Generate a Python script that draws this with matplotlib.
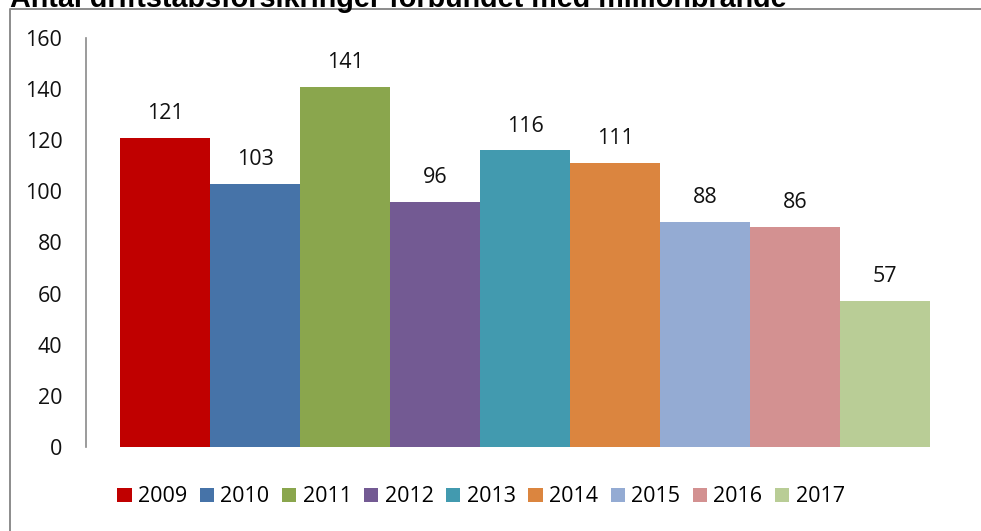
import matplotlib
matplotlib.use("Agg")
import matplotlib.pyplot as plt
from matplotlib.lines import Line2D

# data
years = ["2009", "2010", "2011", "2012", "2013", "2014", "2015", "2016", "2017"]
counts = [121, 103, 141, 96, 116, 111, 88, 86, 57]
colors = ["#c00000", "#4673a8", "#8aa64d", "#735a93", "#429aaf",
          "#db853f", "#94abd3", "#d39191", "#b9cd96"]
title = "Antal driftstabsforsikringer forbundet med millionbrande"

W, H = 981, 531
plt.rcParams["font.family"] = ["Open Sans", "DejaVu Sans"]
fs = 15.5

fig = plt.figure(figsize=(W / 100, H / 100), dpi=100)

# axes placed in pixel terms of the reference
ax_l, ax_r, ax_top, ax_bot = 86, 960, 38, 447
ax = fig.add_axes([ax_l / W, (H - ax_bot) / H, (ax_r - ax_l) / W, (ax_bot - ax_top) / H])

bar_px = 90
x0 = -0.5 - (120 - ax_l) / bar_px
for i, (yr, v, c) in enumerate(zip(years, counts, colors)):
    ax.bar(i, v, width=1.0, color=c, label=yr, linewidth=0)
    ax.annotate(str(v), (i, v), xytext=(0, 10), textcoords="offset points",
                ha="center", va="bottom", fontsize=fs, color="#111111")

ax.set_xlim(x0, x0 + (ax_r - ax_l) / bar_px)
ax.set_ylim(0, 160)
ax.set_yticks(range(0, 161, 20))
ax.set_xticks([])
ax.tick_params(axis="y", length=0, pad=17, labelsize=fs, labelcolor="#111111")
for s in ["top", "right", "bottom"]:
    ax.spines[s].set_visible(False)
ax.spines["left"].set_color("#8a8a8a")
ax.spines["left"].set_linewidth(1.2)

ax.legend(loc="center", bbox_to_anchor=(481 / W, 1 - 497 / H),
          bbox_transform=fig.transFigure, ncol=9, frameon=False,
          fontsize=fs, handlelength=0.66, handleheight=0.66,
          handletextpad=0.3, columnspacing=0.58, borderpad=0)

# outer frame, cut off on the right and bottom
fig.add_artist(Line2D([10 / W, 10 / W, 1.0], [0.0, 1 - 9 / H, 1 - 9 / H],
                      transform=fig.transFigure, color="#8c8c8c", lw=1.4))

# title, clipped by the top edge
t = fig.text(10 / W, 1 - 7 / H, title, ha="left", va="baseline",
             fontsize=17, fontweight="bold", family="Liberation Sans")
fig.canvas.draw()
wpx = t.get_window_extent().width
t.set_fontsize(17 * 778 / wpx)

fig.savefig("out.png", dpi=100)
